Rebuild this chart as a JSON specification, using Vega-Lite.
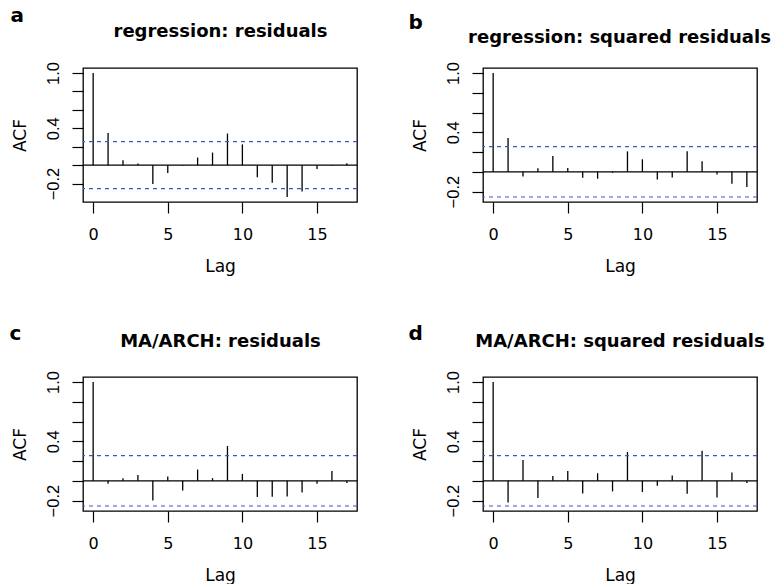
{
  "$schema": "https://vega.github.io/schema/vega-lite/v6.json",
  "background": "white",
  "padding": {"left": 8, "top": 5, "right": 0, "bottom": 0},
  "columns": 2,
  "spacing": {"row": 175, "column": 126},
  "bounds": "flush",
  "datasets": {
    "acf": [
      {"panel": "a", "lag": 0, "acf": 1.0}, {"panel": "a", "lag": 1, "acf": 0.35}, {"panel": "a", "lag": 2, "acf": 0.054}, {"panel": "a", "lag": 3, "acf": 0.018}, {"panel": "a", "lag": 4, "acf": -0.204}, {"panel": "a", "lag": 5, "acf": -0.086}, {"panel": "a", "lag": 6, "acf": -0.007}, {"panel": "a", "lag": 7, "acf": 0.082}, {"panel": "a", "lag": 8, "acf": 0.136}, {"panel": "a", "lag": 9, "acf": 0.343}, {"panel": "a", "lag": 10, "acf": 0.225}, {"panel": "a", "lag": 11, "acf": -0.132}, {"panel": "a", "lag": 12, "acf": -0.19}, {"panel": "a", "lag": 13, "acf": -0.346}, {"panel": "a", "lag": 14, "acf": -0.286}, {"panel": "a", "lag": 15, "acf": -0.043}, {"panel": "a", "lag": 16, "acf": -0.007}, {"panel": "a", "lag": 17, "acf": 0.021},
      {"panel": "b", "lag": 0, "acf": 1.0}, {"panel": "b", "lag": 1, "acf": 0.343}, {"panel": "b", "lag": 2, "acf": -0.047}, {"panel": "b", "lag": 3, "acf": 0.037}, {"panel": "b", "lag": 4, "acf": 0.16}, {"panel": "b", "lag": 5, "acf": 0.04}, {"panel": "b", "lag": 6, "acf": -0.06}, {"panel": "b", "lag": 7, "acf": -0.07}, {"panel": "b", "lag": 8, "acf": -0.01}, {"panel": "b", "lag": 9, "acf": 0.207}, {"panel": "b", "lag": 10, "acf": 0.127}, {"panel": "b", "lag": 11, "acf": -0.077}, {"panel": "b", "lag": 12, "acf": -0.057}, {"panel": "b", "lag": 13, "acf": 0.207}, {"panel": "b", "lag": 14, "acf": 0.107}, {"panel": "b", "lag": 15, "acf": -0.027}, {"panel": "b", "lag": 16, "acf": -0.12}, {"panel": "b", "lag": 17, "acf": -0.153},
      {"panel": "c", "lag": 0, "acf": 1.0}, {"panel": "c", "lag": 1, "acf": -0.03}, {"panel": "c", "lag": 2, "acf": 0.027}, {"panel": "c", "lag": 3, "acf": 0.06}, {"panel": "c", "lag": 4, "acf": -0.198}, {"panel": "c", "lag": 5, "acf": 0.044}, {"panel": "c", "lag": 6, "acf": -0.097}, {"panel": "c", "lag": 7, "acf": 0.114}, {"panel": "c", "lag": 8, "acf": 0.027}, {"panel": "c", "lag": 9, "acf": 0.352}, {"panel": "c", "lag": 10, "acf": 0.07}, {"panel": "c", "lag": 11, "acf": -0.164}, {"panel": "c", "lag": 12, "acf": -0.161}, {"panel": "c", "lag": 13, "acf": -0.158}, {"panel": "c", "lag": 14, "acf": -0.117}, {"panel": "c", "lag": 15, "acf": -0.03}, {"panel": "c", "lag": 16, "acf": 0.1}, {"panel": "c", "lag": 17, "acf": -0.023},
      {"panel": "d", "lag": 0, "acf": 1.0}, {"panel": "d", "lag": 1, "acf": -0.218}, {"panel": "d", "lag": 2, "acf": 0.211}, {"panel": "d", "lag": 3, "acf": -0.174}, {"panel": "d", "lag": 4, "acf": 0.05}, {"panel": "d", "lag": 5, "acf": 0.1}, {"panel": "d", "lag": 6, "acf": -0.128}, {"panel": "d", "lag": 7, "acf": 0.077}, {"panel": "d", "lag": 8, "acf": -0.107}, {"panel": "d", "lag": 9, "acf": 0.292}, {"panel": "d", "lag": 10, "acf": -0.114}, {"panel": "d", "lag": 11, "acf": -0.05}, {"panel": "d", "lag": 12, "acf": 0.054}, {"panel": "d", "lag": 13, "acf": -0.131}, {"panel": "d", "lag": 14, "acf": 0.305}, {"panel": "d", "lag": 15, "acf": -0.168}, {"panel": "d", "lag": 16, "acf": 0.084}, {"panel": "d", "lag": 17, "acf": -0.023}
    ],
    "clim": [
      {"panel": "a", "acf": 0.255}, {"panel": "a", "acf": -0.255},
      {"panel": "b", "acf": 0.255}, {"panel": "b", "acf": -0.255},
      {"panel": "c", "acf": 0.255}, {"panel": "c", "acf": -0.255},
      {"panel": "d", "acf": 0.255}, {"panel": "d", "acf": -0.255}
    ],
    "origin": [{"acf": 0}]
  },
  "concat": [
    {
      "width": 274, "height": 134,
      "resolve": {"axis": {"x": "independent"}},
      "encoding": {"y": {"field": "acf", "type": "quantitative", "title": "ACF", "scale": {"domain": [-0.4, 1.054], "nice": false, "zero": false}, "axis": {"values": [-0.2, 0, 0.2, 0.4, 0.6, 0.8, 1.0], "labelOverlap": false, "ticks": true, "tickSize": 11}}},
      "layer": [
        {"data": {"name": "acf"}, "transform": [{"filter": "datum.panel === 'a'"}], "mark": {"type": "rule", "color": "black", "strokeWidth": 1.3},
          "encoding": {"x": {"field": "lag", "type": "quantitative", "scale": {"domain": [-0.68, 17.68], "nice": false, "zero": false}, "axis": {"values": [0, 5, 10, 15], "format": "d", "title": "Lag"}}, "y2": {"datum": 0}}},
        {"data": {"name": "origin"}, "mark": {"type": "rule", "color": "black", "strokeWidth": 1.2}},
        {"data": {"name": "clim"}, "transform": [{"filter": "datum.panel === 'a'"}], "mark": {"type": "rule", "color": "#3c55c8", "strokeDash": [4, 4], "strokeWidth": 1.1}},
        {"data": {"name": "acf"}, "transform": [{"filter": "datum.panel === 'a'"}], "mark": {"type": "point", "opacity": 0}, "encoding": {"x": {"field": "lag", "type": "quantitative", "axis": {"orient": "top", "domain": false, "ticks": false, "labels": false, "title": "regression: residuals", "titleX": 137, "titleY": -31.3, "titleAlign": "center", "titleBaseline": "alphabetic", "titleFontSize": 18, "titleFontWeight": "bold"}}}},
        {"data": {"name": "acf"}, "transform": [{"filter": "datum.panel === 'a'"}], "mark": {"type": "point", "opacity": 0}, "encoding": {"x": {"field": "lag", "type": "quantitative", "axis": {"orient": "top", "domain": false, "ticks": false, "labels": false, "title": "a", "titleX": -73, "titleY": -46.3, "titleAlign": "left", "titleBaseline": "alphabetic", "titleFontSize": 20, "titleFontWeight": "bold"}}}}
      ]
    },
    {
      "width": 274, "height": 134,
      "resolve": {"axis": {"x": "independent"}},
      "encoding": {"y": {"field": "acf", "type": "quantitative", "title": "ACF", "scale": {"domain": [-0.305, 1.05], "nice": false, "zero": false}, "axis": {"values": [-0.2, 0, 0.2, 0.4, 0.6, 0.8, 1.0], "labelOverlap": false, "ticks": true, "tickSize": 11}}},
      "layer": [
        {"data": {"name": "acf"}, "transform": [{"filter": "datum.panel === 'b'"}], "mark": {"type": "rule", "color": "black", "strokeWidth": 1.3},
          "encoding": {"x": {"field": "lag", "type": "quantitative", "scale": {"domain": [-0.68, 17.68], "nice": false, "zero": false}, "axis": {"values": [0, 5, 10, 15], "format": "d", "title": "Lag"}}, "y2": {"datum": 0}}},
        {"data": {"name": "origin"}, "mark": {"type": "rule", "color": "black", "strokeWidth": 1.2}},
        {"data": {"name": "clim"}, "transform": [{"filter": "datum.panel === 'b'"}], "mark": {"type": "rule", "color": "#3c55c8", "strokeDash": [4, 4], "strokeWidth": 1.1}},
        {"data": {"name": "acf"}, "transform": [{"filter": "datum.panel === 'b'"}], "mark": {"type": "point", "opacity": 0}, "encoding": {"x": {"field": "lag", "type": "quantitative", "axis": {"orient": "top", "domain": false, "ticks": false, "labels": false, "title": "regression: squared residuals", "titleX": 136, "titleY": -25.3, "titleAlign": "center", "titleBaseline": "alphabetic", "titleFontSize": 18, "titleFontWeight": "bold"}}}},
        {"data": {"name": "acf"}, "transform": [{"filter": "datum.panel === 'b'"}], "mark": {"type": "point", "opacity": 0}, "encoding": {"x": {"field": "lag", "type": "quantitative", "axis": {"orient": "top", "domain": false, "ticks": false, "labels": false, "title": "b", "titleX": -75, "titleY": -39.7, "titleAlign": "left", "titleBaseline": "alphabetic", "titleFontSize": 20, "titleFontWeight": "bold"}}}}
      ]
    },
    {
      "width": 274, "height": 134,
      "resolve": {"axis": {"x": "independent"}},
      "encoding": {"y": {"field": "acf", "type": "quantitative", "title": "ACF", "scale": {"domain": [-0.305, 1.05], "nice": false, "zero": false}, "axis": {"values": [-0.2, 0, 0.2, 0.4, 0.6, 0.8, 1.0], "labelOverlap": false, "ticks": true, "tickSize": 11}}},
      "layer": [
        {"data": {"name": "acf"}, "transform": [{"filter": "datum.panel === 'c'"}], "mark": {"type": "rule", "color": "black", "strokeWidth": 1.3},
          "encoding": {"x": {"field": "lag", "type": "quantitative", "scale": {"domain": [-0.68, 17.68], "nice": false, "zero": false}, "axis": {"values": [0, 5, 10, 15], "format": "d", "title": "Lag"}}, "y2": {"datum": 0}}},
        {"data": {"name": "origin"}, "mark": {"type": "rule", "color": "black", "strokeWidth": 1.2}},
        {"data": {"name": "clim"}, "transform": [{"filter": "datum.panel === 'c'"}], "mark": {"type": "rule", "color": "#3c55c8", "strokeDash": [4, 4], "strokeWidth": 1.1}},
        {"data": {"name": "acf"}, "transform": [{"filter": "datum.panel === 'c'"}], "mark": {"type": "point", "opacity": 0}, "encoding": {"x": {"field": "lag", "type": "quantitative", "axis": {"orient": "top", "domain": false, "ticks": false, "labels": false, "title": "MA/ARCH: residuals", "titleX": 137, "titleY": -30.7, "titleAlign": "center", "titleBaseline": "alphabetic", "titleFontSize": 18, "titleFontWeight": "bold"}}}},
        {"data": {"name": "acf"}, "transform": [{"filter": "datum.panel === 'c'"}], "mark": {"type": "point", "opacity": 0}, "encoding": {"x": {"field": "lag", "type": "quantitative", "axis": {"orient": "top", "domain": false, "ticks": false, "labels": false, "title": "c", "titleX": -74, "titleY": -38, "titleAlign": "left", "titleBaseline": "alphabetic", "titleFontSize": 20, "titleFontWeight": "bold"}}}}
      ]
    },
    {
      "width": 274, "height": 134,
      "resolve": {"axis": {"x": "independent"}},
      "encoding": {"y": {"field": "acf", "type": "quantitative", "title": "ACF", "scale": {"domain": [-0.305, 1.05], "nice": false, "zero": false}, "axis": {"values": [-0.2, 0, 0.2, 0.4, 0.6, 0.8, 1.0], "labelOverlap": false, "ticks": true, "tickSize": 11}}},
      "layer": [
        {"data": {"name": "acf"}, "transform": [{"filter": "datum.panel === 'd'"}], "mark": {"type": "rule", "color": "black", "strokeWidth": 1.3},
          "encoding": {"x": {"field": "lag", "type": "quantitative", "scale": {"domain": [-0.68, 17.68], "nice": false, "zero": false}, "axis": {"values": [0, 5, 10, 15], "format": "d", "title": "Lag"}}, "y2": {"datum": 0}}},
        {"data": {"name": "origin"}, "mark": {"type": "rule", "color": "black", "strokeWidth": 1.2}},
        {"data": {"name": "clim"}, "transform": [{"filter": "datum.panel === 'd'"}], "mark": {"type": "rule", "color": "#3c55c8", "strokeDash": [4, 4], "strokeWidth": 1.1}},
        {"data": {"name": "acf"}, "transform": [{"filter": "datum.panel === 'd'"}], "mark": {"type": "point", "opacity": 0}, "encoding": {"x": {"field": "lag", "type": "quantitative", "axis": {"orient": "top", "domain": false, "ticks": false, "labels": false, "title": "MA/ARCH: squared residuals", "titleX": 136.5, "titleY": -30.7, "titleAlign": "center", "titleBaseline": "alphabetic", "titleFontSize": 18, "titleFontWeight": "bold"}}}},
        {"data": {"name": "acf"}, "transform": [{"filter": "datum.panel === 'd'"}], "mark": {"type": "point", "opacity": 0}, "encoding": {"x": {"field": "lag", "type": "quantitative", "axis": {"orient": "top", "domain": false, "ticks": false, "labels": false, "title": "d", "titleX": -75, "titleY": -38, "titleAlign": "left", "titleBaseline": "alphabetic", "titleFontSize": 20, "titleFontWeight": "bold"}}}}
      ]
    }
  ],
  "config": {
    "font": "DejaVu Sans",
    "view": {"stroke": "black", "strokeWidth": 1.3},
    "axis": {"grid": false, "domain": false, "ticks": true, "tickColor": "black", "tickWidth": 1.2, "labelColor": "black", "labelFont": "DejaVu Sans", "labelFontSize": 16, "titleColor": "black", "titleFont": "DejaVu Sans", "titleFontSize": 17, "titleFontWeight": "normal", "labelFlush": false, "labelOverlap": false},
    "axisBottom": {"tickSize": 11, "labelBaseline": "alphabetic", "labelPadding": 26, "titleX": 137, "titleY": 69, "titleAlign": "center", "titleBaseline": "alphabetic"},
    "axisY": {"labelExpr": "abs(datum.value-1)<1e-6 || abs(datum.value-0.4)<1e-6 || abs(datum.value+0.2)<1e-6 ? format(datum.value, '.1f') : ''", "labelAngle": -90, "labelAlign": "center", "labelBaseline": "alphabetic", "labelPadding": 13.6, "labelFont": "Liberation Sans", "labelFontSize": 16.5, "tickSize": 11, "ticks": true, "labelOverlap": false, "titleX": -57.6, "titleY": 67, "titleAngle": -90, "titleAlign": "center", "titleBaseline": "alphabetic"}
  }
}
